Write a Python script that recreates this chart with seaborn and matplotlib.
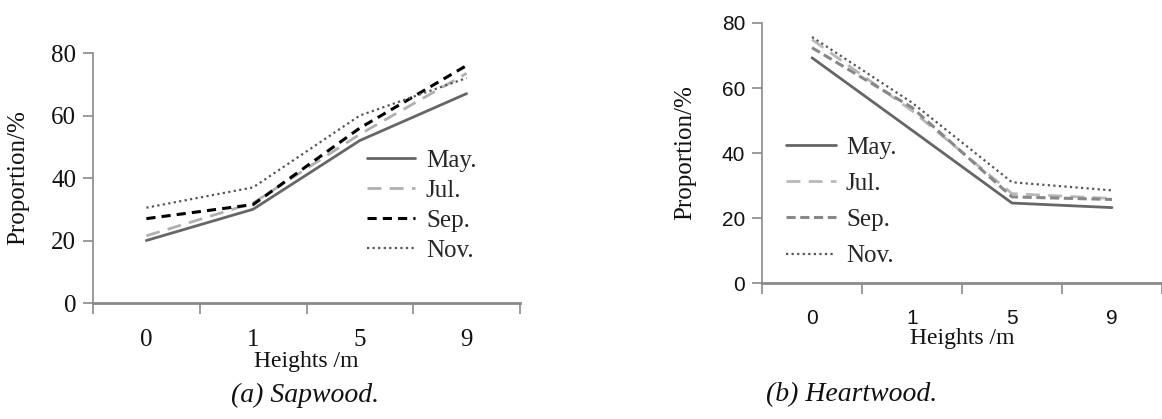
import numpy as np
import pandas as pd
import matplotlib
matplotlib.use("Agg")
import matplotlib.pyplot as plt
import seaborn as sns

heights = ["0", "1", "5", "9"]
months = ["May.", "Jul.", "Sep.", "Nov."]

sap_may = [20.0, 30.0, 52.0, 67.0]
sap_jul = [21.5, 32.0, 54.0, 73.5]
sap_sep = [27.0, 31.5, 56.0, 76.0]
sap_nov = [30.5, 37.0, 60.0, 72.0]

heart_may = [69.3, 47.0, 24.6, 23.2]
heart_jul = [74.9, 53.0, 27.5, 26.0]
heart_sep = [72.4, 54.0, 26.5, 25.7]
heart_nov = [75.7, 55.5, 31.0, 28.5]

sns.set_theme(style="white")
plt.rcParams["font.family"] = ["Liberation Serif", "DejaVu Serif"]

fig = plt.figure(figsize=(11.62, 4.19), dpi=100)
axL = fig.add_axes([93/1162, 1-303/419, 427/1162, 250/419])
axR = fig.add_axes([762/1162, 1-283/419, 400/1162, 260/419])

pos = np.arange(len(heights))

styles_L = [
    dict(color="#666666", linestyle="-", linewidth=2.0),
    dict(color="#b0b0b0", linestyle=(0, (5, 3)), linewidth=2.0),
    dict(color="#000000", linestyle=(0, (3, 2)), linewidth=2.2),
    dict(color="#555555", linestyle=(0, (1, 1.5)), linewidth=1.6),
]
styles_R = [
    dict(color="#666666", linestyle="-", linewidth=2.0),
    dict(color="#b8b8b8", linestyle=(0, (5, 3)), linewidth=2.0),
    dict(color="#888888", linestyle=(0, (3, 1.5)), linewidth=2.2),
    dict(color="#555555", linestyle=(0, (1, 1.5)), linewidth=1.6),
]

for ax, series, styles in [
    (axL, [sap_may, sap_jul, sap_sep, sap_nov], styles_L),
    (axR, [heart_may, heart_jul, heart_sep, heart_nov], styles_R),
]:
    for m, vals, st in zip(months, series, styles):
        df = pd.DataFrame({"x": pos, "y": vals})
        sns.lineplot(data=df, x="x", y="y", ax=ax, label=m, **st)

for ax, tickfont, tsize, xpad in [(axL, "Liberation Serif", 18, 19), (axR, "Liberation Sans", 15, 19)]:
    ax.set_xlim(-0.5, len(heights) - 0.5)
    ax.set_ylim(0, 80)
    ax.set_yticks([0, 20, 40, 60, 80])
    ax.set_xticks(np.arange(-0.5, len(heights), 1))
    ax.set_xticklabels([])
    ax.set_xticks(pos, minor=True)
    ax.set_xticklabels(heights, minor=True)
    for s in ["top", "right"]:
        ax.spines[s].set_visible(False)
    ax.spines["left"].set_color("#8a8a8a")
    ax.spines["left"].set_linewidth(1.2)
    ax.spines["bottom"].set_color("#8a8a8a")
    ax.spines["bottom"].set_linewidth(2.0)
    ax.tick_params(axis="x", which="major", length=8, width=1.2, color="#8a8a8a", direction="out", bottom=True)
    ax.tick_params(axis="x", which="minor", length=0, pad=xpad, labelsize=tsize, bottom=True)
    ax.tick_params(axis="y", length=7, width=1.2, color="#8a8a8a", direction="out", pad=5, labelsize=tsize, left=True)
    for lab in ax.get_yticklabels() + ax.get_xticklabels(minor=True):
        lab.set_fontfamily(tickfont)
        lab.set_color("#111111")
    ax.set_xlabel("Heights /m", fontsize=17, color="#111111", labelpad=0)
    ax.set_ylabel("Proportion/%", fontsize=18, color="#111111")
    ax.grid(False)

axL.yaxis.set_label_coords(-0.15, 0.5)
axR.yaxis.set_label_coords(-0.165, 0.5)

axL.legend(loc="upper left", bbox_to_anchor=(0.642, 0.615), frameon=False, fontsize=18,
           handlelength=1.9, handletextpad=0.45, labelspacing=0.3, borderpad=0, borderaxespad=0)
axR.legend(loc="upper left", bbox_to_anchor=(0.06, 0.565), frameon=False, fontsize=18,
           handlelength=2.0, handletextpad=0.4, labelspacing=0.55, borderpad=0, borderaxespad=0)

fig.text(305/1162, 1-395/419, "(a) Sapwood.", ha="center", va="center", fontsize=20, style="italic", color="#111111")
fig.text(852/1162, 1-395/419, "(b) Heartwood.", ha="center", va="center", fontsize=20, style="italic", color="#111111")

fig.savefig("out.png", dpi=100, facecolor="white")
